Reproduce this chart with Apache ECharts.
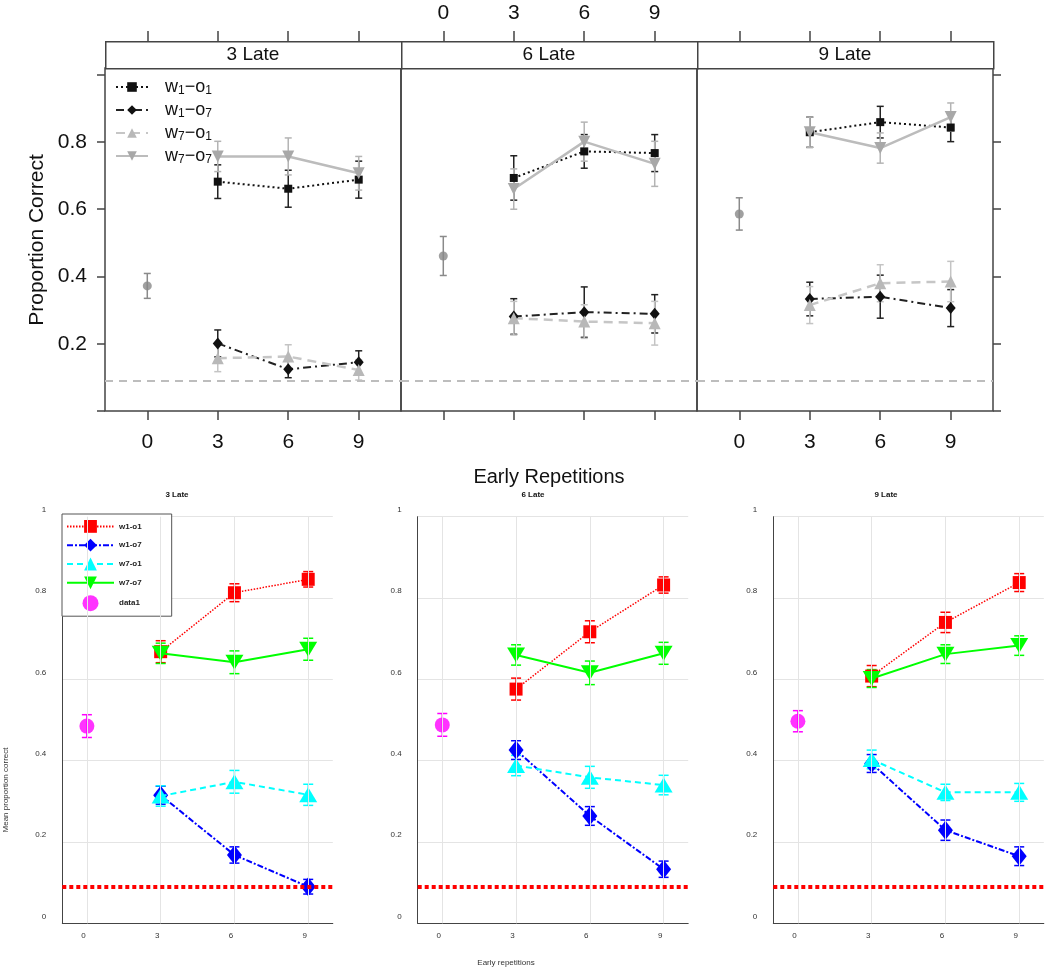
<!DOCTYPE html>
<html><head><meta charset="utf-8">
<script src="https://cdn.jsdelivr.net/npm/echarts@6/dist/echarts.min.js"></script>
<style>html,body{margin:0;padding:0;background:#fff}#c{width:1050px;height:969px}</style>
</head><body><div id="c"></div>
<script>
// ---------- data ----------
const panelTitles = ['3 Late', '6 Late', '9 Late'];
const reps = [3, 6, 9];
const xTicks = [0, 3, 6, 9];
const yTicksTop = [0, 0.2, 0.4, 0.6, 0.8, 1.0];
const yLabelsTop = [0.2, 0.4, 0.6, 0.8];
const chance = 1 / 11;

// top figure (rows = panels 3/6/9 Late, cols = 3/6/9 early reps)
const topNames = ['w_1-o_1', 'w_1-o_7', 'w_7-o_1', 'w_7-o_7'];
const topBaselineMean = [0.372, 0.461, 0.586];
const topBaselineErr = [0.037, 0.058, 0.048];
const topW1O1Mean = [[0.682, 0.661, 0.688], [0.693, 0.772, 0.767], [0.829, 0.859, 0.843]];
const topW1O1Err  = [[0.050, 0.055, 0.055], [0.066, 0.050, 0.055], [0.045, 0.047, 0.042]];
const topW1O7Mean = [[0.201, 0.124, 0.145], [0.281, 0.294, 0.289], [0.333, 0.340, 0.306]];
const topW1O7Err  = [[0.040, 0.025, 0.034], [0.053, 0.075, 0.057], [0.050, 0.064, 0.055]];
const topW7O1Mean = [[0.157, 0.162, 0.122], [0.276, 0.266, 0.261], [0.315, 0.380, 0.385]];
const topW7O1Err  = [[0.040, 0.035, 0.030], [0.050, 0.050, 0.065], [0.055, 0.055, 0.060]];
const topW7O7Mean = [[0.757, 0.757, 0.707], [0.660, 0.801, 0.735], [0.829, 0.782, 0.874]];
const topW7O7Err  = [[0.045, 0.055, 0.050], [0.060, 0.058, 0.067], [0.045, 0.045, 0.042]];

// bottom figure
const botNames = ['w1-o1', 'w1-o7', 'w7-o1', 'w7-o7', 'data1'];
const botBaselineMean = [0.485, 0.488, 0.497];
const botBaselineErr = [0.028, 0.028, 0.026];
const botW1O1Mean = [[0.668, 0.813, 0.846], [0.576, 0.717, 0.832], [0.608, 0.740, 0.838]];
const botW1O1Err  = [[0.027, 0.022, 0.019], [0.027, 0.027, 0.020], [0.026, 0.025, 0.022]];
const botW1O7Mean = [[0.315, 0.168, 0.090], [0.426, 0.264, 0.133], [0.393, 0.229, 0.165]];
const botW1O7Err  = [[0.022, 0.020, 0.018], [0.023, 0.023, 0.020], [0.022, 0.025, 0.023]];
const botW7O1Mean = [[0.313, 0.348, 0.316], [0.388, 0.359, 0.340], [0.403, 0.322, 0.322]];
const botW7O1Err  = [[0.025, 0.028, 0.026], [0.025, 0.027, 0.024], [0.023, 0.020, 0.022]];
const botW7O7Mean = [[0.664, 0.642, 0.674], [0.660, 0.616, 0.664], [0.602, 0.662, 0.683]];
const botW7O7Err  = [[0.025, 0.028, 0.027], [0.025, 0.029, 0.027], [0.022, 0.023, 0.024]];

// ---------- styling ----------
const FF = 'Liberation Sans, Arial, sans-serif';
const topStyles = [
  { mean: topW1O1Mean, err: topW1O1Err, color: '#111', ebColor: '#222', symbol: 'rect', size: 8, rotate: 0, line: { color: '#111', width: 2, type: [2, 3] } },
  { mean: topW1O7Mean, err: topW1O7Err, color: '#111', ebColor: '#222', symbol: 'diamond', size: [10, 12], rotate: 0, line: { color: '#222', width: 2, type: [8, 4, 2, 4] } },
  { mean: topW7O1Mean, err: topW7O1Err, color: '#b8b8b8', ebColor: '#c4c4c4', symbol: 'triangle', size: 12, rotate: 0, line: { color: '#c6c6c6', width: 2.5, type: [9, 6] } },
  { mean: topW7O7Mean, err: topW7O7Err, color: '#a8a8a8', ebColor: '#b4b4b4', symbol: 'triangle', size: 12, rotate: 180, line: { color: '#bcbcbc', width: 2.5, type: 'solid' } }
];
const botStyles = [
  { mean: botW1O1Mean, err: botW1O1Err, color: '#ff0000', symbol: 'rect', size: 13, rotate: 0, line: { color: '#ff0000', width: 1.5, type: [1.5, 1.5] } },
  { mean: botW1O7Mean, err: botW1O7Err, color: '#0000ff', symbol: 'diamond', size: [15, 19], rotate: 0, line: { color: '#0000ff', width: 2, type: [6, 2, 2, 2] } },
  { mean: botW7O1Mean, err: botW7O1Err, color: '#00ffff', symbol: 'triangle', size: [18, 15], rotate: 0, line: { color: '#00ffff', width: 2, type: [6, 4] } },
  { mean: botW7O7Mean, err: botW7O7Err, color: '#00ff00', symbol: 'triangle', size: [18, 15], rotate: 180, line: { color: '#00ff00', width: 2, type: 'solid' } }
];

function errSeries(name, xi, yi, xs, means, errs, color, cap, width, z) {
  return {
    type: 'custom', name: name, xAxisIndex: xi, yAxisIndex: yi, z: z, silent: true,
    data: xs.map((x, k) => [x, means[k] - errs[k], means[k] + errs[k]]),
    encode: { x: 0, y: [1, 2] },
    renderItem: function (p, api) {
      const x = api.value(0);
      const a = api.coord([x, api.value(1)]);
      const b = api.coord([x, api.value(2)]);
      const st = { stroke: color, lineWidth: width, fill: null };
      return {
        type: 'group', children: [
          { type: 'line', shape: { x1: a[0], y1: a[1], x2: b[0], y2: b[1] }, style: st },
          { type: 'line', shape: { x1: a[0] - cap, y1: a[1], x2: a[0] + cap, y2: a[1] }, style: st },
          { type: 'line', shape: { x1: b[0] - cap, y1: b[1], x2: b[0] + cap, y2: b[1] }, style: st }
        ]
      };
    }
  };
}

const grids = [], xAxes = [], yAxes = [], series = [];
const topLeft = [105, 401, 697];
const botLeft = [62.3, 417.7, 773.3];

// top grids & axes
for (let i = 0; i < 3; i++) {
  grids.push({ left: topLeft[i], top: 68, width: 296, height: 343, show: true, borderColor: '#444', borderWidth: 1.5, backgroundColor: 'transparent' });
}
for (let i = 0; i < 3; i++) {
  xAxes.push({
    gridIndex: i, type: 'value', min: -1.8, max: 10.8, position: 'bottom',
    axisLine: { show: false, onZero: false }, splitLine: { show: false },
    axisTick: { show: true, customValues: xTicks, length: 9, lineStyle: { color: '#444', width: 1.5 } },
    axisLabel: { show: i !== 1, customValues: xTicks, margin: 21, fontSize: 21, color: '#111', fontFamily: FF }
  });
}
for (let i = 0; i < 3; i++) {
  xAxes.push({
    gridIndex: i, type: 'value', min: -1.8, max: 10.8, position: 'top', offset: 27,
    axisLine: { show: false, onZero: false }, splitLine: { show: false },
    axisTick: { show: true, customValues: xTicks, length: 10, lineStyle: { color: '#444', width: 1.5 } },
    axisLabel: { show: i === 1, customValues: xTicks, margin: 17, fontSize: 21, color: '#111', fontFamily: FF }
  });
}
for (let i = 0; i < 3; i++) {
  yAxes.push({
    gridIndex: i, type: 'value', min: 0, max: 1.02, position: 'left',
    axisLine: { show: false, onZero: false }, splitLine: { show: false },
    axisTick: { show: i === 0, customValues: yTicksTop, length: 8, lineStyle: { color: '#444', width: 1.5 } },
    axisLabel: { show: i === 0, customValues: yLabelsTop, formatter: v => Number(v).toFixed(1), margin: 18, fontSize: 21, color: '#111', fontFamily: FF }
  });
}
yAxes.push({
  gridIndex: 2, type: 'value', min: 0, max: 1.02, position: 'right',
  axisLine: { show: false, onZero: false }, splitLine: { show: false },
  axisTick: { show: true, customValues: yTicksTop, length: 8, lineStyle: { color: '#444', width: 1.5 } },
  axisLabel: { show: false }
});

// bottom grids & axes
for (let i = 0; i < 3; i++) {
  grids.push({ left: botLeft[i], top: 516.7, width: 270.5, height: 406.6, show: false });
  xAxes.push({
    gridIndex: 3 + i, type: 'value', min: -1, max: 10,
    axisLine: { show: true, onZero: false, lineStyle: { color: '#444', width: 1 } },
    axisTick: { show: false }, splitLine: { show: false },
    axisLabel: { customValues: xTicks, fontSize: 8, color: '#333', margin: 8, padding: [0, 7, 0, 0], fontFamily: FF }
  });
  yAxes.push({
    gridIndex: 3 + i, type: 'value', min: 0, max: 1, interval: 0.2,
    axisLine: { show: true, onZero: false, lineStyle: { color: '#444', width: 1 } },
    axisTick: { show: false },
    splitLine: { show: true, lineStyle: { color: '#e4e4e4', width: 1 } },
    axisLabel: { fontSize: 8, color: '#333', margin: 16, verticalAlign: 'bottom', padding: [0, 0, 3, 0], fontFamily: FF,
      formatter: v => String(Math.round(v * 10) / 10) }
  });
}

// top series
for (let i = 0; i < 3; i++) {
  series.push({
    type: 'line', name: 'chance-top', xAxisIndex: i, yAxisIndex: i, data: [], z: 1, silent: true,
    markLine: { silent: true, symbol: 'none', label: { show: false },
      lineStyle: { color: '#bdbdbd', width: 2, type: [8, 6] },
      data: [{ yAxis: chance }] }
  });
  topStyles.forEach((s, c) => {
    series.push({
      type: 'line', name: topNames[c], xAxisIndex: i, yAxisIndex: i, z: 3,
      data: reps.map((r, k) => [r, s.mean[i][k]]),
      symbol: s.symbol, symbolSize: s.size, symbolRotate: s.rotate,
      itemStyle: { color: s.color }, lineStyle: s.line
    });
  });
  topStyles.forEach((s, c) => {
    series.push(errSeries(topNames[c], i, i, reps, s.mean[i], s.err[i], s.ebColor, 3.5, 1.5, 2));
  });
  series.push({
    type: 'scatter', name: 'baseline-top', xAxisIndex: i, yAxisIndex: i, z: 3,
    data: [[0, topBaselineMean[i]]], symbol: 'circle', symbolSize: 9, itemStyle: { color: '#888' }
  });
  series.push(errSeries('baseline-top', i, i, [0], [topBaselineMean[i]], [topBaselineErr[i]], '#8a8a8a', 3.5, 1.5, 2));
}

// bottom series
for (let i = 0; i < 3; i++) {
  const xi = 6 + i, yi = 4 + i;
  series.push({
    type: 'line', name: 'grid-bottom', xAxisIndex: xi, yAxisIndex: yi, data: [], z: 1, silent: true,
    markLine: { silent: true, symbol: 'none', label: { show: false }, animation: false,
      lineStyle: { color: '#e4e4e4', width: 1, type: 'solid' },
      data: xTicks.map(v => ({ xAxis: v })).concat([{ yAxis: chance, lineStyle: { color: '#ff0000', width: 4, type: [4, 3] } }]) }
  });
  botStyles.forEach((s, c) => {
    series.push({
      type: 'line', name: botNames[c], xAxisIndex: xi, yAxisIndex: yi, z: 3 + c * 0.1,
      data: reps.map((r, k) => [r, s.mean[i][k]]),
      symbol: s.symbol, symbolSize: s.size, symbolRotate: s.rotate,
      itemStyle: { color: s.color }, lineStyle: s.line
    });
  });
  botStyles.forEach((s, c) => {
    series.push(errSeries(botNames[c], xi, yi, reps, s.mean[i], s.err[i], s.color, 5, 1.5, 2.5 + c * 0.1));
  });
  series.push({
    type: 'scatter', name: 'data1', xAxisIndex: xi, yAxisIndex: yi, z: 3,
    data: [[0, botBaselineMean[i]]], symbol: 'circle', symbolSize: 15, itemStyle: { color: '#ff00ff' }
  });
  series.push(errSeries('data1', xi, yi, [0], [botBaselineMean[i]], [botBaselineErr[i]], '#ff00ff', 5, 1.5, 2.5));
}

// ---------- texts ----------
const graphic = [];
for (let i = 0; i < 3; i++) {
  graphic.push({ type: 'rect', left: topLeft[i], top: 41, shape: { x: 0, y: 0, width: 296, height: 27 },
    style: { fill: '#fff', stroke: '#444', lineWidth: 1.5 }, z: 10 });
  graphic.push({ type: 'text', x: topLeft[i] + 148, y: 55, z: 11,
    style: { text: panelTitles[i], font: '19px ' + FF, fill: '#111', textAlign: 'center', textVerticalAlign: 'middle', align: 'center', verticalAlign: 'middle' } });
  graphic.push({ type: 'text', x: [177, 533, 886][i], y: 495, z: 11,
    style: { text: panelTitles[i], font: 'bold 8px ' + FF, fill: '#111', textAlign: 'center', textVerticalAlign: 'middle', align: 'center', verticalAlign: 'middle' } });
}
graphic.push({ type: 'text', x: 37, y: 240, rotation: Math.PI / 2, z: 11,
  style: { text: 'Proportion Correct', font: '21px ' + FF, fill: '#111', textAlign: 'center', textVerticalAlign: 'middle', align: 'center', verticalAlign: 'middle' } });
graphic.push({ type: 'text', x: 549, y: 477, z: 11,
  style: { text: 'Early Repetitions', font: '20px ' + FF, fill: '#111', textAlign: 'center', textVerticalAlign: 'middle', align: 'center', verticalAlign: 'middle' } });
graphic.push({ type: 'text', x: 6, y: 790, rotation: Math.PI / 2, z: 11,
  style: { text: 'Mean proportion correct', font: '8px ' + FF, fill: '#333', textAlign: 'center', textVerticalAlign: 'middle', align: 'center', verticalAlign: 'middle' } });
graphic.push({ type: 'text', x: 506, y: 963, z: 11,
  style: { text: 'Early repetitions', font: '8px ' + FF, fill: '#333', textAlign: 'center', textVerticalAlign: 'middle', align: 'center', verticalAlign: 'middle' } });

const option = {
  animation: false,
  backgroundColor: '#fff',
  grid: grids, xAxis: xAxes, yAxis: yAxes, series: series, graphic: graphic,
  legend: [
    {
      data: topNames, orient: 'vertical', left: 110, top: 73, itemWidth: 32, itemHeight: 12, itemGap: 4,
      selectedMode: false,
      formatter: function (n) {
        const m = n.match(/w_(\d)-o_(\d)/);
        return '{n|w}{s|' + m[1] + '}{n|\u2212o}{s|' + m[2] + '}';
      },
      textStyle: {
        padding: [0, 0, 0, 12],
        rich: {
          n: { fontSize: 18, color: '#111', fontFamily: FF, lineHeight: 20 },
          s: { fontSize: 12, color: '#111', fontFamily: FF, lineHeight: 8, verticalAlign: 'bottom' }
        }
      }
    },
    {
      data: botNames, orient: 'vertical', left: 62, top: 514, padding: [6, 30, 5, 4],
      itemWidth: 47, itemHeight: 16, itemGap: 6, selectedMode: false,
      backgroundColor: '#fff', borderColor: '#555', borderWidth: 1,
      textStyle: { fontSize: 8, color: '#222', fontWeight: 'bold', fontFamily: FF }
    }
  ]
};

const chart = echarts.init(document.getElementById('c'), null, { renderer: 'canvas' });
chart.setOption(option);
</script>
</body></html>
